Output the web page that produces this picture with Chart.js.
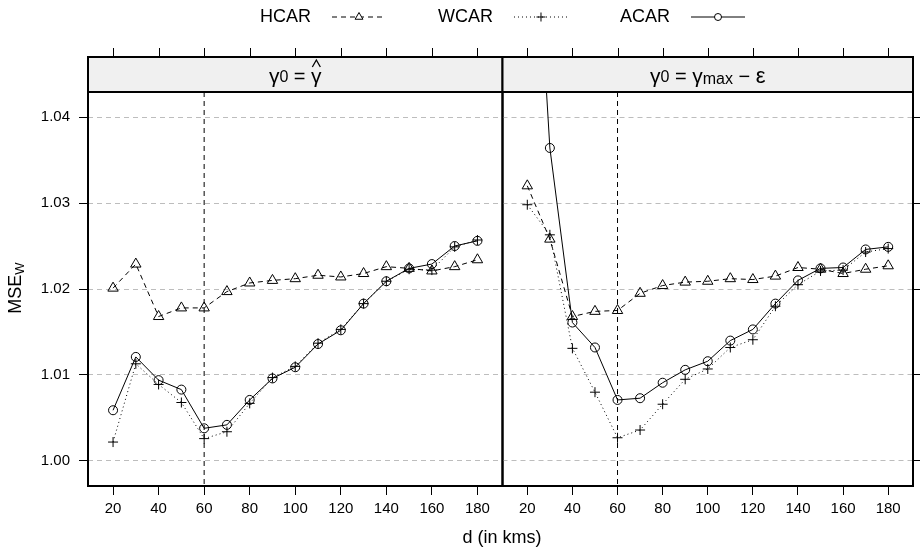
<!DOCTYPE html>
<html>
<head>
<meta charset="utf-8">
<script src="https://cdn.jsdelivr.net/npm/chart.js@4.4.1/dist/chart.umd.min.js"></script>
<style>
  html, body { margin: 0; padding: 0; background: #fff; }
  #wrap { position: relative; width: 920px; height: 551px; }
  #wrap canvas { position: absolute; left: 0; top: 0; }
</style>
</head>
<body>
<div id="wrap">
  <canvas id="panelLeft" width="920" height="551"></canvas>
  <canvas id="panelRight" width="920" height="551"></canvas>
</div>
<script>
// distances (km) and the two panels' curves
const distances = [20, 30, 40, 50, 60, 70, 80, 90, 100, 110, 120, 130, 140, 150, 160, 170, 180];
const xTicks = [20, 40, 60, 80, 100, 120, 140, 160, 180];
const yTicks = [1.00, 1.01, 1.02, 1.03, 1.04];
const refDistance = 60;

// panel 1: gamma0 = gamma-hat
const hcarLeft = [1.0201, 1.0229, 1.0168, 1.0178, 1.0178, 1.0197, 1.0207, 1.0210, 1.0212, 1.0216, 1.0214, 1.0218, 1.0226, 1.0224, 1.0221, 1.0226, 1.0234];
const wcarLeft = [1.0022, 1.0113, 1.0089, 1.0068, 1.0026, 1.0034, 1.0067, 1.0097, 1.0110, 1.0137, 1.0153, 1.0183, 1.0209, 1.0223, 1.0222, 1.0249, 1.0257];
const acarLeft = [1.0059, 1.0121, 1.0094, 1.0083, 1.0038, 1.0042, 1.0071, 1.0096, 1.0109, 1.0136, 1.0152, 1.0183, 1.0209, 1.0224, 1.0229, 1.0250, 1.0256];

// panel 2: gamma0 = gamma_max - eps
const hcarRight = [1.0320, 1.0258, 1.0168, 1.0174, 1.0175, 1.0195, 1.0204, 1.0208, 1.0209, 1.0212, 1.0211, 1.0215, 1.0225, 1.0223, 1.0218, 1.0223, 1.0227];
const wcarRight = [1.0298, 1.0263, 1.0131, 1.0080, 1.0027, 1.0036, 1.0066, 1.0095, 1.0107, 1.0132, 1.0141, 1.0180, 1.0205, 1.0221, 1.0222, 1.0243, 1.0247];
const acarRight = [1.0800, 1.0364, 1.0161, 1.0132, 1.0071, 1.0073, 1.0091, 1.0106, 1.0116, 1.0140, 1.0153, 1.0183, 1.0210, 1.0224, 1.0225, 1.0246, 1.0249];

const FONT = "'Liberation Sans', Arial, sans-serif";
Chart.defaults.font.family = FONT;
Chart.defaults.color = '#000';

const series = [
  { label: 'HCAR', style: 'triangle', dash: [5, 4], radius: 6, legendRadius: 4.5 },
  { label: 'WCAR', style: 'cross', dash: [1, 3], radius: 5, legendRadius: 4.5 },
  { label: 'ACAR', style: 'circle', dash: [], radius: 4.5, legendRadius: 3.5 }
];

function pts(vals) {
  return distances.map((d, i) => ({ x: d, y: vals[i] }));
}

function makeDatasets(arrs) {
  return series.map((s, k) => ({
    label: s.label,
    data: pts(arrs[k]),
    borderColor: '#000',
    borderWidth: 1,
    borderDash: s.dash,
    backgroundColor: 'rgba(0,0,0,0)',
    pointStyle: s.style,
    pointRadius: s.radius,
    pointBorderWidth: 1,
    pointBorderColor: '#000',
    pointBackgroundColor: 'rgba(0,0,0,0)',
    tension: 0
  }));
}

// text made of pieces with different sizes / offsets
function drawRich(ctx, segs, cx, base) {
  let total = 0;
  segs.forEach(s => {
    ctx.font = s.size + 'px ' + FONT;
    s.w = ctx.measureText(s.t).width;
    total += s.w;
  });
  let x = cx - total / 2;
  ctx.textAlign = 'left';
  ctx.textBaseline = 'alphabetic';
  segs.forEach(s => {
    ctx.font = s.size + 'px ' + FONT;
    ctx.fillText(s.t, x, base + (s.dy || 0));
    if (s.hat) {
      const mx = x + s.w / 2;
      ctx.beginPath();
      ctx.lineWidth = 1.3;
      ctx.moveTo(mx - 4, base - 16);
      ctx.lineTo(mx, base - 23);
      ctx.lineTo(mx + 4, base - 16);
      ctx.stroke();
    }
    x += s.w;
  });
}

function panelDecor(stripSegs) {
  return {
    id: 'panelDecor',
    beforeDatasetsDraw(chart) {
      const { ctx, chartArea: a, scales: { x } } = chart;
      const px = x.getPixelForValue(refDistance);
      ctx.save();
      ctx.strokeStyle = '#000';
      ctx.lineWidth = 1;
      ctx.setLineDash([5, 4]);
      ctx.beginPath();
      ctx.moveTo(px, a.top);
      ctx.lineTo(px, a.bottom);
      ctx.stroke();
      ctx.restore();
    },
    afterDraw(chart) {
      const { ctx, chartArea: a, scales: { x } } = chart;
      const stripTop = 57;
      ctx.save();
      // strip
      ctx.fillStyle = '#f0f0f0';
      ctx.fillRect(a.left, stripTop, a.right - a.left, a.top - stripTop);
      ctx.strokeStyle = '#000';
      ctx.lineWidth = 2;
      ctx.strokeRect(a.left, stripTop, a.right - a.left, a.top - stripTop);
      // panel border
      ctx.strokeRect(a.left, a.top, a.right - a.left, a.bottom - a.top);
      // ticks on top of the strip
      ctx.lineWidth = 1;
      xTicks.forEach(v => {
        const p = Math.round(x.getPixelForValue(v)) + 0.5;
        ctx.beginPath();
        ctx.moveTo(p, stripTop - 9);
        ctx.lineTo(p, stripTop);
        ctx.stroke();
      });
      ctx.fillStyle = '#000';
      drawRich(ctx, stripSegs, (a.left + a.right) / 2, 83);
      ctx.restore();
    }
  };
}

const figureText = {
  id: 'figureText',
  afterDraw(chart) {
    const ctx = chart.ctx;
    ctx.save();
    ctx.fillStyle = '#000';
    ctx.strokeStyle = '#000';
    // x title
    ctx.font = '18px ' + FONT;
    ctx.textAlign = 'center';
    ctx.textBaseline = 'middle';
    ctx.fillText('d (in kms)', 502, 538);
    // y title
    ctx.translate(15, 288);
    ctx.rotate(-Math.PI / 2);
    drawRich(ctx, [{ t: 'MSE', size: 18 }, { t: 'W', size: 13, dy: 3 }], 0, 6);
    ctx.setTransform(1, 0, 0, 1, 0, 0);
    // legend
    let lx = 260;
    const ly = 17;
    series.forEach(s => {
      ctx.font = '18px ' + FONT;
      ctx.textAlign = 'left';
      ctx.textBaseline = 'middle';
      ctx.fillText(s.label, lx, ly);
      const tw = ctx.measureText(s.label).width;
      const x0 = lx + tw + 21, x1 = x0 + 54;
      ctx.lineWidth = 1;
      ctx.setLineDash(s.dash);
      ctx.beginPath();
      ctx.moveTo(x0, ly);
      ctx.lineTo(x1, ly);
      ctx.stroke();
      ctx.setLineDash([]);
      ctx.fillStyle = '#fff';
      Chart.helpers.drawPoint(ctx, { pointStyle: s.style, radius: s.legendRadius, rotation: 0, borderWidth: 1 }, (x0 + x1) / 2, ly);
      ctx.fillStyle = '#000';
      lx = x1 + 52;
    });
    ctx.restore();
  }
};

function makeChart(id, arrs, side, stripSegs, extra) {
  const yAxis = {
    type: 'linear',
    position: side,
    min: 0.99709,
    max: 1.04291,
    afterBuildTicks: s => { s.ticks = yTicks.map(v => ({ value: v })); },
    afterFit: s => { s.width = side === 'left' ? 88 : 2; },
    grid: {
      color: '#bdbdbd',
      tickColor: '#000',
      tickLength: 9,
      lineWidth: 1
    },
    border: { display: false, dash: [5, 4] },
    ticks: {
      display: side === 'left',
      padding: 9,
      font: { size: 15 },
      callback: v => Number(v).toFixed(2)
    }
  };
  return new Chart(document.getElementById(id), {
    type: 'line',
    data: { datasets: makeDatasets(arrs) },
    options: {
      responsive: false,
      animation: false,
      devicePixelRatio: 1,
      layout: {
        padding: side === 'left'
          ? { left: 0, top: 92, right: 417.5, bottom: 0 }
          : { left: 502.5, top: 92, right: 0, bottom: 0 }
      },
      plugins: { legend: { display: false }, tooltip: { enabled: false } },
      scales: {
        x: {
          type: 'linear',
          min: 9,
          max: 191,
          afterBuildTicks: s => { s.ticks = xTicks.map(v => ({ value: v })); },
          afterFit: s => { s.height = 65; },
          grid: { drawOnChartArea: false, tickColor: '#000', tickLength: 9 },
          border: { display: false },
          ticks: { padding: 5, maxRotation: 0, font: { size: 15 } }
        },
        y: yAxis
      }
    },
    plugins: [panelDecor(stripSegs)].concat(extra)
  });
}

makeChart('panelLeft', [hcarLeft, wcarLeft, acarLeft], 'left',
  [{ t: 'γ', size: 21 }, { t: '0', size: 16, dy: -1 }, { t: ' = ', size: 20 }, { t: 'γ', size: 21, hat: true }],
  [figureText]);

makeChart('panelRight', [hcarRight, wcarRight, acarRight], 'right',
  [{ t: 'γ', size: 21 }, { t: '0', size: 16, dy: -1 }, { t: ' = ', size: 20 }, { t: 'γ', size: 21 },
   { t: 'max', size: 16, dy: 1 }, { t: ' − ', size: 20 }, { t: 'ε', size: 22 }],
  []);
</script>
</body>
</html>
